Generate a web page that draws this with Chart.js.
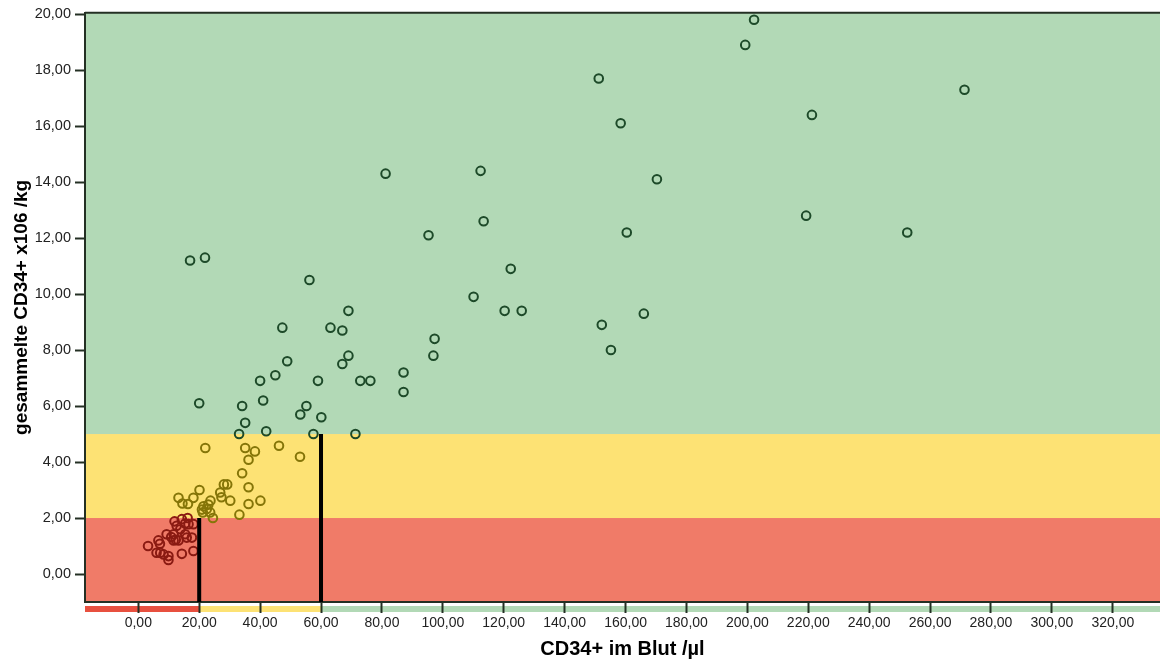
<!DOCTYPE html>
<html>
<head>
<meta charset="utf-8">
<script src="https://cdn.jsdelivr.net/npm/chart.js@4/dist/chart.umd.min.js"></script>
<style>
  html, body { margin: 0; padding: 0; background: #fff; }
  #wrap { width: 1160px; height: 662px; }
</style>
</head>
<body>
<div id="wrap"><canvas id="chart" width="1160" height="662"></canvas></div>
<script>
// ── DATA ────────────────────────────────────────────────────────────
// points above 5 (green zone): [CD34+ im Blut, gesammelte CD34+]
var greenX = [202.2, 199.3, 151.2, 271.3, 158.4, 221.2, 170.3, 81.2, 112.4, 113.4, 95.3, 160.4, 219.3, 252.5,
              17.0, 21.9, 122.3, 56.2, 110.1, 120.3, 125.9, 69.0, 152.2, 166.0, 155.2, 47.3, 63.1, 67.0,
              97.3, 96.9, 69.0, 48.9, 67.0, 87.1, 45.0, 40.0, 59.0, 72.9, 76.2, 87.1, 20.0, 41.0, 34.1,
              55.2, 53.2, 60.1, 35.1, 42.0, 33.1, 57.5, 71.3];
var greenY = [19.8, 18.9, 17.7, 17.3, 16.1, 16.4, 14.1, 14.3, 14.4, 12.6, 12.1, 12.2, 12.8, 12.2,
              11.2, 11.3, 10.9, 10.5, 9.9, 9.4, 9.4, 9.4, 8.9, 9.3, 8.0, 8.8, 8.8, 8.7,
              8.4, 7.8, 7.8, 7.6, 7.5, 7.2, 7.1, 6.9, 6.9, 6.9, 6.9, 6.5, 6.1, 6.2, 6.0,
              6.0, 5.7, 5.6, 5.4, 5.1, 5.0, 5.0, 5.0];

// points between 2 and 5 (yellow zone)
var yellowX = [22.0, 35.1, 38.3, 46.2, 53.1, 36.2, 34.1, 28.1, 29.2, 36.2, 20.1, 26.9, 13.2, 18.1, 14.5,
               16.3, 27.3, 30.2, 36.2, 40.1, 23.7, 21.4, 22.5, 20.9, 23.0, 23.6, 24.5, 33.2, 21.2];
var yellowY = [4.5, 4.5, 4.38, 4.58, 4.19, 4.08, 3.6, 3.2, 3.2, 3.1, 3.0, 2.91, 2.72, 2.72, 2.52,
               2.5, 2.74, 2.62, 2.5, 2.62, 2.62, 2.42, 2.32, 2.3, 2.48, 2.2, 2.0, 2.12, 2.2];

// points below 2 (red zone)
var redX = [3.2, 6.6, 7.1, 6.0, 7.2, 8.3, 9.9, 9.9, 9.3, 10.8, 11.6, 13.2, 11.9, 12.6, 13.8,
            15.4, 15.9, 15.4, 16.5, 14.3, 16.2, 18.1, 17.6, 14.3, 18.1, 11.6, 12.3];
var redY = [1.0, 1.2, 1.08, 0.76, 0.76, 0.7, 0.64, 0.5, 1.42, 1.32, 1.42, 1.2, 1.88, 1.72, 1.6,
            1.42, 1.3, 1.8, 1.78, 1.96, 2.0, 1.78, 1.3, 0.72, 0.82, 1.2, 1.22];

// cut-off lines (vertical, from bottom of plot up to the zone limit)
var cutX = [20, 60];
var cutTop = [2, 5];

// zone limits on the y axis and on the x axis strip
var zoneY = [2, 5];
var zoneX = [20, 60];

// axes
var xMin = -17.5, xMax = 335.5;
var yMin = -1.0, yMax = 20.05;
var xTicks = [0, 20, 40, 60, 80, 100, 120, 140, 160, 180, 200, 220, 240, 260, 280, 300, 320];
var yTicks = [0, 2, 4, 6, 8, 10, 12, 14, 16, 18, 20];

// ── COLORS ──────────────────────────────────────────────────────────
var ZONE_BG = ["#f07b68", "#fde274", "#b2d9b6"];      // red, yellow, green
var STRIP_BG = ["#e8503f", "#fde274", "#b2d9b6"];
var PT_COLOR = { green: "#1d4a29", yellow: "#857508", red: "#8a1a12" };
var AXIS = "#243024";
var FONT = "'Liberation Sans', Arial, sans-serif";

// ── HELPERS ─────────────────────────────────────────────────────────
function pts(xs, ys) {
    var out = [];
    for (var i = 0; i < xs.length; i++) out.push({ x: xs[i], y: ys[i] });
    return out;
}

function fmt(v) {
    return v.toFixed(2).replace(".", ",");
}

function pointSet(label, xs, ys, color) {
    return {
        label: label,
        data: pts(xs, ys),
        showLine: false,
        pointStyle: "circle",
        pointRadius: 4.3,
        pointBorderWidth: 2,
        pointBorderColor: color,
        pointBackgroundColor: "rgba(0,0,0,0)",
        order: 1
    };
}

// ── PLUGIN: zone backgrounds, strip, top border ─────────────────────
var zonePlugin = {
    id: "zones",
    beforeDraw: function (chart) {
        var ctx = chart.ctx, a = chart.chartArea;
        var x = chart.scales.x, y = chart.scales.y;
        var yEdges = [yMin].concat(zoneY).concat([yMax]);
        var xEdges = [xMin].concat(zoneX).concat([xMax]);
        ctx.save();
        for (var i = 0; i < ZONE_BG.length; i++) {
            var t = Math.max(a.top, y.getPixelForValue(yEdges[i + 1]));
            var b = Math.min(a.bottom, y.getPixelForValue(yEdges[i]));
            ctx.fillStyle = ZONE_BG[i];
            ctx.fillRect(a.left, t, a.right - a.left, b - t);
        }
        for (var j = 0; j < STRIP_BG.length; j++) {
            var l = x.getPixelForValue(xEdges[j]);
            var r = x.getPixelForValue(xEdges[j + 1]);
            ctx.fillStyle = STRIP_BG[j];
            ctx.fillRect(l, a.bottom + 4, r - l, 6);
        }
        ctx.restore();
    },
    afterDraw: function (chart) {
        var ctx = chart.ctx, a = chart.chartArea;
        ctx.save();
        ctx.strokeStyle = AXIS;
        ctx.lineWidth = 2;
        ctx.beginPath();
        ctx.moveTo(a.left, a.top);
        ctx.lineTo(a.right, a.top);
        ctx.stroke();
        ctx.restore();
    }
};

// ── DATASETS ────────────────────────────────────────────────────────
var datasets = [];
for (var c = 0; c < cutX.length; c++) {
    datasets.push({
        label: "cut " + cutX[c],
        data: [{ x: cutX[c], y: yMin }, { x: cutX[c], y: cutTop[c] }],
        showLine: true,
        borderColor: "#000",
        borderWidth: 4,
        pointRadius: 0,
        order: 0
    });
}
datasets.push(pointSet("green", greenX, greenY, PT_COLOR.green));
datasets.push(pointSet("yellow", yellowX, yellowY, PT_COLOR.yellow));
datasets.push(pointSet("red", redX, redY, PT_COLOR.red));

// ── CHART ───────────────────────────────────────────────────────────
new Chart(document.getElementById("chart"), {
    type: "scatter",
    data: { datasets: datasets },
    plugins: [zonePlugin],
    options: {
        responsive: false,
        animation: false,
        layout: { autoPadding: false, padding: { top: 12, right: 0, left: 0, bottom: 0 } },
        plugins: { legend: { display: false }, tooltip: { enabled: false } },
        scales: {
            x: {
                type: "linear",
                min: xMin,
                max: xMax,
                bounds: "data",
                afterBuildTicks: function (s) {
                    s.ticks = xTicks.map(function (v) { return { value: v }; });
                },
                afterFit: function (s) {
                    s.height = 60;
                    s.paddingLeft = 0;
                    s.paddingRight = 0;
                },
                grid: { drawOnChartArea: false, drawTicks: true, tickLength: 11, tickColor: AXIS, tickWidth: 2 },
                border: { color: AXIS, width: 2 },
                ticks: {
                    autoSkip: false,
                    maxRotation: 0,
                    padding: 2,
                    color: "#222",
                    font: { family: FONT, size: 14 },
                    callback: function (v) { return fmt(v); }
                },
                title: {
                    display: true,
                    text: "CD34+ im Blut /µl",
                    color: "#000",
                    font: { family: FONT, size: 20, weight: "bold" },
                    padding: { top: 0, bottom: 1 }
                }
            },
            y: {
                type: "linear",
                min: yMin,
                max: yMax,
                bounds: "data",
                afterBuildTicks: function (s) {
                    s.ticks = yTicks.map(function (v) { return { value: v }; });
                },
                afterFit: function (s) { s.width = 85; },
                grid: { drawOnChartArea: false, drawTicks: true, tickLength: 10, tickColor: AXIS, tickWidth: 2 },
                border: { color: AXIS, width: 2 },
                ticks: {
                    autoSkip: false,
                    padding: 4,
                    color: "#222",
                    font: { family: FONT, size: 14.5 },
                    callback: function (v) { return fmt(v); }
                },
                title: {
                    display: true,
                    text: "gesammelte CD34+ x106 /kg",
                    color: "#000",
                    font: { family: FONT, size: 19, weight: "bold" },
                    padding: { top: 10, bottom: 0 }
                }
            }
        }
    }
});
</script>
</body>
</html>
